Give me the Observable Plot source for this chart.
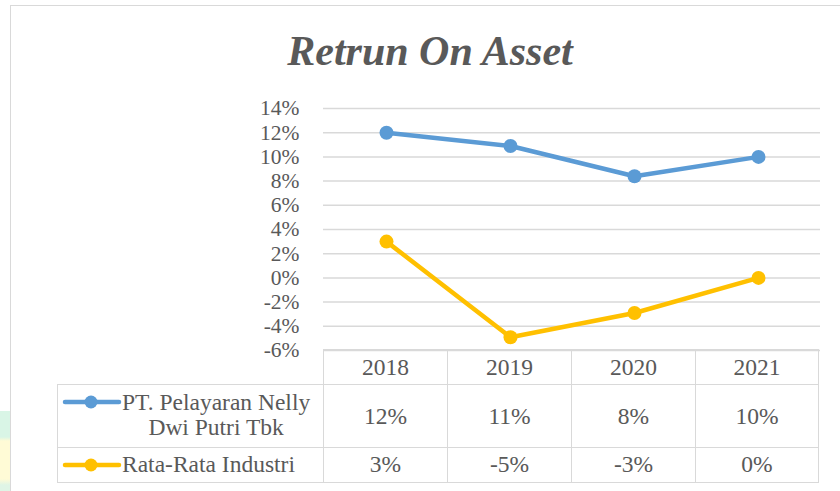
<!DOCTYPE html>
<html>
<head>
<meta charset="utf-8">
<script src="https://cdn.jsdelivr.net/npm/d3@7"></script>
<script src="https://cdn.jsdelivr.net/npm/@observablehq/plot@0.6"></script>
<style>
  html, body { margin: 0; padding: 0; background: #fff; }
  #page { position: relative; width: 840px; height: 491px; overflow: hidden; font-family: "Liberation Serif", "Times New Roman", serif; color: #595959; }
  #edge { position: absolute; left: 0; top: 411px; width: 10px; height: 80px;
    background: linear-gradient(to bottom, #d9f5e6 0px, #d9f5e6 26px, #fffbd6 30px, #fffbd6 68px, #dff5e6 74px, #dff5e6 80px); }
  #frame { position: absolute; left: 10px; top: 5px; width: 900px; height: 600px; border: 1.5px solid #d9d9d9; box-sizing: border-box; }
  #title { position: absolute; left: 0; top: 30px; width: 860px; text-align: center; font-size: 42px; line-height: 42px; font-weight: bold; font-style: italic; color: #595959; }
  #chart { position: absolute; left: 0; top: 90px; }
  #tbl { position: absolute; display: grid; }
  #tbl .c { box-sizing: border-box; border-left: 1.5px solid #d9d9d9; border-top: 1.5px solid #d9d9d9; display: flex; align-items: center; justify-content: center; font-size: 23.5px; color: #595959; position: relative; }
  #tbl .c.r { border-right: 1.5px solid #d9d9d9; }
  #tbl .c.b { border-bottom: 1.5px solid #d9d9d9; }
  #tbl .c.blank { border: none; }
  #tbl .lg { justify-content: flex-start; }
  #tbl .sw { position: absolute; left: 4px; }
  #tbl .lt { position: absolute; left: 64px; display: inline-block; text-align: center; line-height: 25px; white-space: nowrap; }
</style>
</head>
<body>
<div id="page">
  <div id="edge"></div>
  <div id="frame"></div>
  <div id="title">Retrun On Asset</div>
  <div id="chart"></div>
  <div id="tbl"></div>
</div>
<script>
// ---- data ----
const years = ["2018", "2019", "2020", "2021"];
const seriesNames = ["PT. Pelayaran Nelly\nDwi Putri Tbk", "Rata-Rata Industri"];
const nellyROA = [0.12, 0.109, 0.084, 0.10];
const industryROA = [0.03, -0.049, -0.029, 0.0];
const yTicks = [-0.06, -0.04, -0.02, 0, 0.02, 0.04, 0.06, 0.08, 0.10, 0.12, 0.14];
const seriesColors = ["#5B9BD5", "#FFC000"];

const pct = d => `${Math.round(d * 100) || 0}%`;
const rows = [];
years.forEach((yr, i) => {
  rows.push({series: 0, year: yr, value: nellyROA[i]});
  rows.push({series: 1, year: yr, value: industryROA[i]});
});

const chart = Plot.plot({
  width: 840,
  height: 262,
  marginLeft: 323,
  marginRight: 20,
  marginTop: 18,
  marginBottom: 2,
  style: {overflow: "visible", background: "transparent", fontFamily: "'Liberation Serif', 'Times New Roman', serif"},
  x: {type: "band", domain: years, padding: 0, axis: null},
  y: {domain: [-0.06, 0.14], axis: null},
  marks: [
    Plot.ruleY(yTicks, {stroke: "#d9d9d9", strokeWidth: 1.5}),
    Plot.axisY(yTicks, {tickSize: 0, tickPadding: 24, fontSize: 21.5, color: "#595959", label: null, tickFormat: pct}),
    Plot.line(rows, {x: "year", y: "value", z: "series", stroke: d => seriesColors[d.series], strokeWidth: 4.5, strokeLinejoin: "round"}),
    Plot.dot(rows, {x: "year", y: "value", r: 7, fill: d => seriesColors[d.series], stroke: "none"})
  ]
});
document.getElementById("chart").appendChild(chart);

// ---- data table below, aligned to the chart's x scale ----
const xs = chart.scale("x");
const ys = chart.scale("y");
const bw = xs.bandwidth;
const legendW = 266;
const tableTop = 90 + ys.apply(-0.06);
const tbl = document.getElementById("tbl");
tbl.style.left = (xs.range[0] - legendW) + "px";
tbl.style.top = (tableTop - 0.75) + "px";
tbl.style.gridTemplateColumns = `${legendW}px repeat(${years.length}, ${bw}px)`;
tbl.style.gridTemplateRows = "35px 62.7px 35.6px";

function cell(cls, html) {
  const d = document.createElement("div");
  d.className = "c " + cls;
  if (html != null) d.innerHTML = html;
  tbl.appendChild(d);
  return d;
}
cell("blank");
years.forEach((y, i) => cell(i === years.length - 1 ? "r" : "", y));
const seriesVals = [nellyROA, industryROA];
seriesNames.forEach((name, s) => {
  const last = s === seriesNames.length - 1 ? " b" : "";
  const lg = cell("lg" + last);
  const sw = document.createElementNS("http://www.w3.org/2000/svg", "svg");
  sw.setAttribute("class", "sw");
  sw.setAttribute("width", 60); sw.setAttribute("height", 16);
  sw.innerHTML = `<line x1="3" x2="57" y1="8" y2="8" stroke="${seriesColors[s]}" stroke-width="4.5" stroke-linecap="round"/><circle cx="29" cy="8" r="6.5" fill="${seriesColors[s]}"/>`;
  lg.appendChild(sw);
  const lt = document.createElement("div");
  lt.className = "lt";
  lt.innerHTML = name.split("\n").join("<br>");
  lg.appendChild(lt);
  if (s === 0) { sw.style.top = "9px"; lt.style.top = "5px"; }
  else { sw.style.top = "9.5px"; lt.style.top = "4.5px"; }
  seriesVals[s].forEach((v, i) => cell((i === years.length - 1 ? "r" : "") + last, pct(v)));
});
</script>
</body>
</html>
